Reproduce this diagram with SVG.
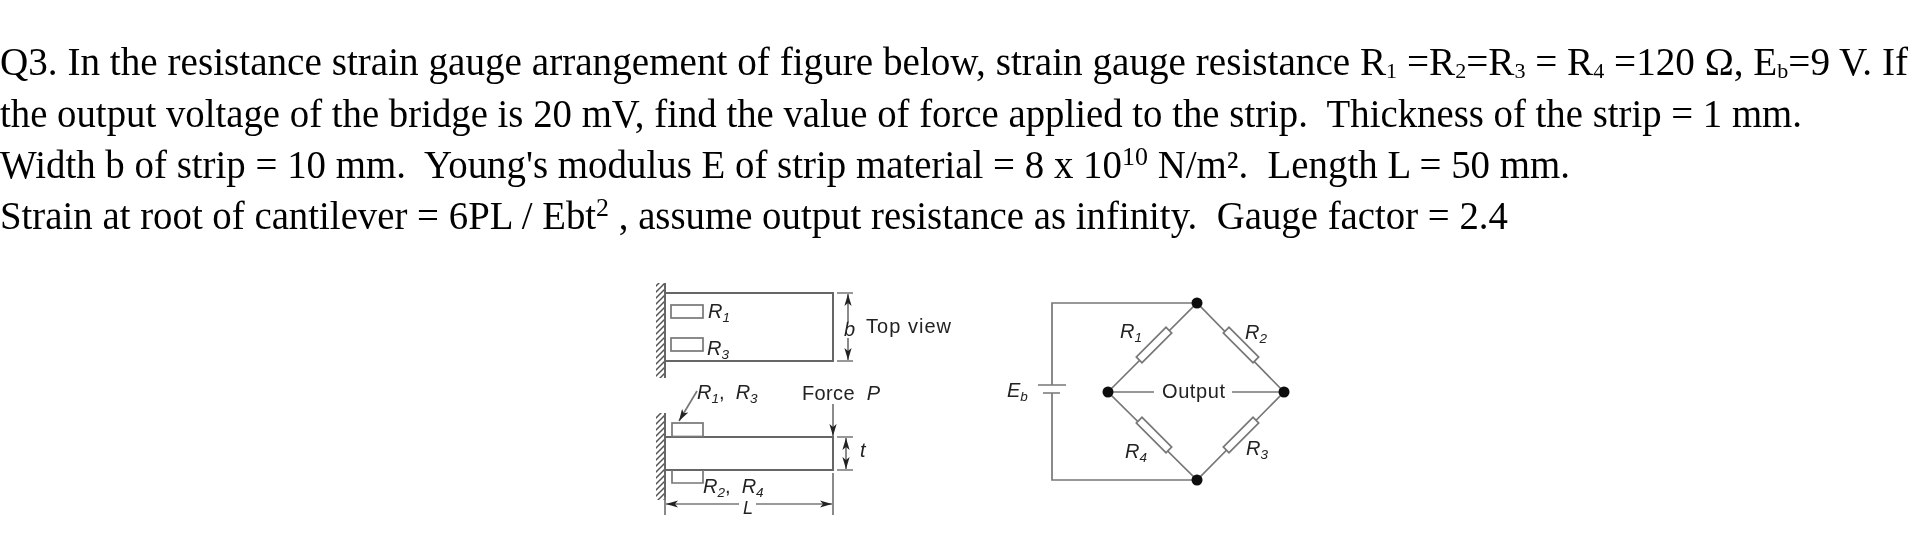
<svg xmlns="http://www.w3.org/2000/svg" width="1920" height="554" viewBox="0 0 1920 554">
<style>
.q{font:39px "Liberation Serif","Times New Roman",serif;fill:#000;white-space:pre}
.s{font-size:22px}
.x{font-size:26px}
.l{font:20px "Liberation Sans",Arial,sans-serif;fill:#222;white-space:pre}
.i{font-style:italic}
.u{font-size:13.5px}
.w{fill:none;stroke:#777;stroke-width:1.7}
.t{fill:none;stroke:#666;stroke-width:2}
.r{fill:#fff;stroke:#777;stroke-width:1.7}
.d{fill:#111}
.b{filter:url(#soft)}
</style>
<defs>
<filter id="soft" x="-2%" y="-2%" width="104%" height="104%"><feGaussianBlur stdDeviation="0.4"/></filter>
<marker id="a" viewBox="0 0 10 6" refX="10" refY="3" markerWidth="12" markerHeight="8" markerUnits="userSpaceOnUse" orient="auto-start-reverse"><path d="M0 0L10 3L0 6L2.5 3Z" fill="#222"/></marker>
<pattern id="h" width="6" height="6" patternUnits="userSpaceOnUse"><path d="M-1 7L7 -1M-1 1L1 -1M5 7L7 5" stroke="#555" stroke-width="1.5"/></pattern>
</defs>
<rect width="1920" height="554" fill="#fff"/>
<g class="b">
<g id="question">
<text class="q" x="0" y="75" textLength="1908" lengthAdjust="spacingAndGlyphs">Q3. In the resistance strain gauge arrangement of figure below, strain gauge resistance R<tspan class="s" dy="3">1</tspan><tspan dy="-3"> =R</tspan><tspan class="s" dy="3">2</tspan><tspan dy="-3">=R</tspan><tspan class="s" dy="3">3</tspan><tspan dy="-3"> = R</tspan><tspan class="s" dy="3">4</tspan><tspan dy="-3"> =120 Ω, E</tspan><tspan class="s" dy="3">b</tspan><tspan dy="-3">=9 V. If</tspan></text>
<text class="q" x="0" y="127" textLength="1802" lengthAdjust="spacingAndGlyphs">the output voltage of the bridge is 20 mV, find the value of force applied to the strip.  Thickness of the strip = 1 mm.</text>
<text class="q" x="0" y="178" textLength="1570" lengthAdjust="spacingAndGlyphs">Width b of strip = 10 mm.  Young's modulus E of strip material = 8 x 10<tspan class="x" dy="-13">10</tspan><tspan dy="13"> N/m².  Length L = 50 mm.</tspan></text>
<text class="q" x="0" y="229" textLength="1508" lengthAdjust="spacingAndGlyphs">Strain at root of cantilever = 6PL / Ebt<tspan class="x" dy="-13">2</tspan><tspan dy="13"> , assume output resistance as infinity.  Gauge factor = 2.4</tspan></text>
</g>
<g id="top-view">
<rect x="656" y="283" width="9" height="95" fill="url(#h)"/>
<path class="t" d="M665 283V378M665 293H833V361H665"/>
<rect class="w" x="671" y="305" width="32" height="13"/>
<rect class="w" x="671" y="338" width="32" height="13"/>
<text class="l i" x="708" y="318">R<tspan class="u" dy="4">1</tspan></text>
<text class="l i" x="707" y="355">R<tspan class="u" dy="4">3</tspan></text>
<text class="l i" x="844" y="336">b</text>
<text class="l" x="866" y="333" textLength="85">Top view</text>
</g>
<g id="side-view">
<rect x="656" y="413" width="9" height="87" fill="url(#h)"/>
<path class="t" d="M665 413V500M665 437H833V470H665"/>
<rect class="w" x="672" y="423" width="31" height="13.5"/>
<path class="w" d="M672 470V483H703V470"/>
<text class="l i" x="697" y="399">R<tspan class="u" dy="4">1</tspan><tspan dy="-4" font-style="normal">,  </tspan><tspan>R</tspan><tspan class="u" dy="4">3</tspan></text>
<text class="l" x="802" y="400" textLength="78">Force  <tspan class="i">P</tspan></text>
<text class="l i" x="703" y="493">R<tspan class="u" dy="4">2</tspan><tspan dy="-4" font-style="normal">,  </tspan><tspan>R</tspan><tspan class="u" dy="4">4</tspan></text>
<text class="l i" x="860" y="457">t</text>
<text class="l i" x="743" y="514" style="font-size:18px">L</text>
</g>
<g id="bridge-labels">
<text class="l i" x="1120" y="338">R<tspan class="u" dy="4">1</tspan></text>
<text class="l i" x="1245" y="339">R<tspan class="u" dy="4">2</tspan></text>
<text class="l i" x="1246" y="455">R<tspan class="u" dy="4">3</tspan></text>
<text class="l i" x="1125" y="458">R<tspan class="u" dy="4">4</tspan></text>
<text class="l i" x="1007" y="397">E<tspan class="u" dy="4">b</tspan></text>
<text class="l" x="1162" y="398" textLength="63">Output</text>
</g>
<g id="connectors">
<g class="w">
<path d="M837 293H853M837 361H853"/>
<path d="M848 294V322" marker-start="url(#a)"/>
<path d="M848 338V360" marker-end="url(#a)"/>
<path d="M697 391L679 421" marker-end="url(#a)"/>
<path d="M833 404V436" marker-end="url(#a)"/>
<path d="M837 437H853M837 470H853"/>
<path d="M846 438V469" marker-start="url(#a)" marker-end="url(#a)"/>
<path d="M665 497V515M833 473V515"/>
<path d="M666 504H739" marker-start="url(#a)"/>
<path d="M756 504H832" marker-end="url(#a)"/>
<path d="M1197 303H1052V385M1052 393V480H1197"/>
<path d="M1038 385H1066M1043 393H1060"/>
<path d="M1108 392L1197 303L1284 392L1197 480Z"/>
<path d="M1108 392H1154M1232 392H1284"/>
</g>
</g>
<g id="r1"><rect class="r" x="-21" y="-4" width="42" height="8" transform="translate(1154 345) rotate(-45)"/></g>
<g id="r2"><rect class="r" x="-21" y="-4" width="42" height="8" transform="translate(1241 345) rotate(45)"/></g>
<g id="r3"><rect class="r" x="-21" y="-4" width="42" height="8" transform="translate(1241 435) rotate(-45)"/></g>
<g id="r4"><rect class="r" x="-21" y="-4" width="42" height="8" transform="translate(1154 435) rotate(45)"/></g>
<g id="nodes">
<circle id="n-top" class="d" cx="1197" cy="303" r="5.5"/>
<circle id="n-left" class="d" cx="1108" cy="392" r="5.5"/>
<circle id="n-right" class="d" cx="1284" cy="392" r="5.5"/>
<circle id="n-bottom" class="d" cx="1197" cy="480" r="5.5"/>
</g>
</g>
</svg>
